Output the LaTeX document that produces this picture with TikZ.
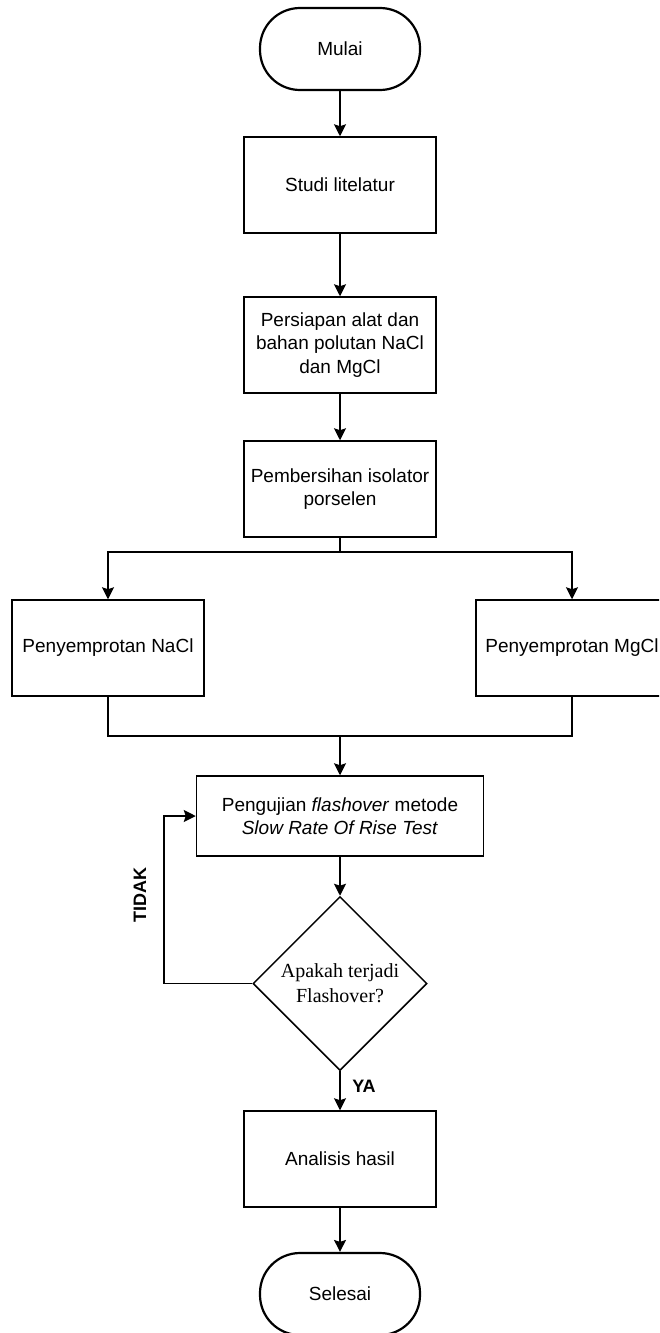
\documentclass[tikz,border=0pt]{standalone}
\usepackage{fontspec}
\setmainfont{Liberation Sans}
\newfontfamily\timesfont{Liberation Serif}
\usetikzlibrary{arrows.meta,shapes.geometric}

\begin{document}
\begin{tikzpicture}[x=0.5pt,y=-0.5pt,
                    every node/.style={font=\fontsize{9.5}{11.75}\selectfont},
                    term/.style={draw,line width=1.1pt,rounded corners=20pt,minimum width=80pt,minimum height=41pt,inner sep=0pt},
                    proc/.style={draw,line width=.75pt,minimum width=96pt,minimum height=48pt,align=center,inner sep=0pt},
                    dec/.style={draw,line width=.75pt,diamond,aspect=1,minimum size=87pt,inner sep=0pt,align=center,font=\timesfont\fontsize{10}{12.5}\selectfont},
                    arr/.style={-{Stealth[length=6pt,width=6pt,inset=1pt]},line width=.75pt},
                    jalur/.style={line width=.75pt},
                    lbl/.style={font=\bfseries\fontsize{9}{11}\selectfont,inner sep=0pt}]
                    \useasboundingbox(0,0)rectangle(659,1333);
                    \clip(0,0)rectangle(659,1333);
                    \node[term](mulai)at(340,49){Mulai};
                    \node[proc](studi)at(340,185){Studi litelatur};
                    \node[proc](persiapan)at(340,345){Persiapan alat dan\\bahan polutan NaCl\\dan MgCl};
                    \node[proc](bersih)at(340,489){Pembersihan isolator\\porselen};
                    \node[proc](nacl)at(108,648){Penyemprotan NaCl};
                    \node[proc](mgcl)at(572,648){Penyemprotan MgCl};
                    \node[proc,minimum width=143.5pt,minimum height=40pt](uji)at(340,816){Pengujian \textit{flashover} metode\\\textit{Slow Rate Of Rise Test}};
                    \node[dec](cek)at(340,983.5){Apakah terjadi\\Flashover?};
                    \node[proc](analisis)at(340,1159){Analisis hasil};
                    \node[term](selesai)at(340,1294){Selesai};
                    \coordinate(cabang)at(340,552);
                    \coordinate(gabung)at(340,736);
                    \coordinate(balik)at(164,816);
                    \draw[arr](mulai)--(studi);
                    \draw[arr](studi)--(persiapan);
                    \draw[arr](persiapan)--(bersih);
                    \draw[jalur](bersih)--(cabang);
                    \draw[arr](cabang)-|(nacl);
                    \draw[arr](cabang)-|(mgcl);
                    \draw[jalur](nacl)|-(gabung);
                    \draw[jalur](mgcl)|-(gabung);
                    \draw[arr](gabung)--(uji);
                    \draw[arr](uji)--(cek);
                    \draw[arr](cek.west)-|(balik)--(uji.west);
                    \draw[arr](cek)--(analisis);
                    \draw[arr](analisis)--(selesai);
                    \node[lbl,rotate=90](tidak)at(140,895){TIDAK};
                    \node[lbl](ya)at(364,1086){YA};
                \end{tikzpicture}
\end{document}
